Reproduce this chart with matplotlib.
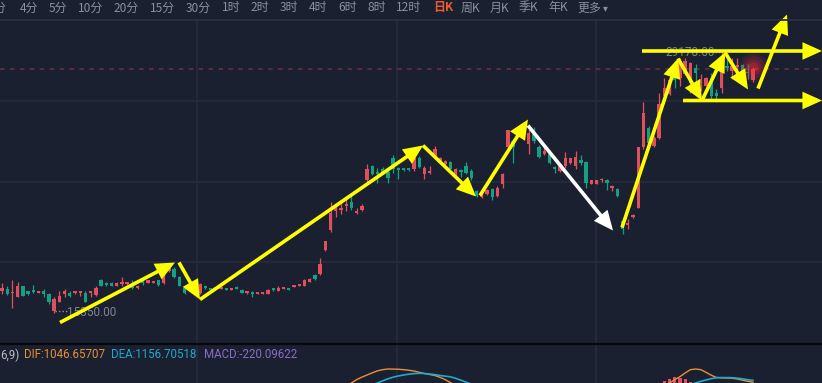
import matplotlib
matplotlib.use("Agg")
import matplotlib.pyplot as plt
from matplotlib.patches import Rectangle, FancyArrowPatch
from matplotlib.lines import Line2D
import numpy as np

# ---------------- data ----------------
opens = [16521, 16627, 16395, 16202, 16734, 16468, 16521, 16414, 16468, 16361,
         15457, 15936, 16361, 16414, 16414, 16414, 16414, 16414, 16308, 17053,
         16893, 16946, 16787, 16893, 16893, 16893, 16680, 17053, 16946, 16946,
         17053, 16946, 17584, 17691, 17265, 16680, 16627, 16574, 16414, 16734,
         16627, 16627, 16627, 16627, 16574, 16680, 16574, 16414, 16414, 16361,
         16361, 16361, 16627, 16521, 16627, 16627, 16734, 16787, 16787, 16999,
         17372, 17425, 18701, 19712, 20775, 20828, 21041, 21254, 20669, 20828,
         22371, 23168, 22849, 22956, 22849, 23541, 23009, 23009, 23009, 22956,
         23541, 22743, 22796, 23700, 23434, 23275, 23381, 22743, 22902, 23168,
         22902, 21839, 21467, 21679, 21945, 21573, 22211, 24126, 24498, 24764,
         24604, 24338, 24870, 24179, 23806, 23806, 23062, 22902, 23168, 23328,
         23168, 23487, 23381, 22211, 22211, 22371, 22424, 21998, 21945, 20243,
         20031, 20456, 20935, 24126, 25189, 24232, 24657, 26891, 26997, 28061,
         27848, 28061, 27582, 28380, 27582, 27423, 27848, 27050, 27316, 28486,
         28220, 28433, 28539, 28140, 27689]
closes = [16680, 16361, 16435, 16787, 16255, 16361, 16468, 16468, 16361, 15936,
          16095, 16255, 16468, 16255, 16468, 16468, 15936, 16468, 16680, 16787,
          16840, 16787, 16946, 16946, 16946, 16680, 16787, 16946, 17053, 16999,
          16840, 17638, 17744, 17265, 16787, 16414, 16574, 16521, 16893, 16680,
          16574, 16680, 16680, 16574, 16627, 16627, 16414, 16468, 16361, 16414,
          16414, 16574, 16574, 16680, 16680, 16574, 16787, 16840, 17106, 17159,
          17159, 17957, 19127, 20669, 20882, 20935, 21147, 20935, 20775, 21041,
          22956, 22743, 22743, 22796, 22530, 22956, 22956, 22956, 22956, 23541,
          23115, 23062, 22849, 24072, 23594, 23434, 23009, 23009, 22849, 22796,
          22530, 21573, 21679, 21892, 21467, 21998, 22743, 25030, 24126, 24923,
          25030, 24923, 24498, 23647, 23966, 23328, 23009, 23168, 23541, 23541,
          23647, 23328, 22264, 22371, 22371, 22477, 22264, 22052, 21573, 19818,
          20137, 20509, 24126, 25987, 24391, 24657, 26465, 27316, 27689, 27689,
          28752, 28752, 28646, 28114, 27795, 27848, 26891, 26891, 28646, 28380,
          28486, 28486, 28114, 28114, 28327]
highs = [16946, 16734, 17053, 16999, 16760, 16521, 16840, 16495, 16627, 16414,
         16149, 16468, 16627, 16468, 16521, 16480, 16468, 16480, 16734, 17159,
         16999, 16999, 16999, 17265, 16999, 17053, 16840, 17106, 17080, 17025,
         17106, 17691, 17850, 17797, 17318, 16734, 16734, 16680, 16946, 16787,
         16680, 16705, 16734, 16650, 16650, 16734, 16627, 16521, 16468, 16440,
         16440, 16600, 16640, 16734, 16705, 16650, 16810, 16865, 17159, 17185,
         17425, 18223, 19180, 21201, 21041, 21201, 21467, 21573, 20882, 21147,
         23275, 23221, 23062, 23115, 22956, 23753, 23115, 23062, 23062, 23594,
         23700, 23168, 23168, 24232, 23647, 23487, 23434, 23062, 23009, 23381,
         22956, 21892, 21730, 21945, 21998, 22052, 22796, 25083, 24604, 24975,
         25083, 25136, 25242, 24285, 24232, 23913, 23168, 23221, 23913, 23560,
         23966, 23753, 23434, 22395, 22395, 22530, 22477, 22158, 21998, 20297,
         20350, 20616, 24179, 26519, 25295, 24711, 27050, 27848, 27742, 28752,
         28859, 28859, 28699, 28593, 28061, 27901, 28114, 27263, 29178, 28859,
         28859, 28859, 28593, 28593, 28433]
lows = [16361, 16308, 15617, 16149, 16230, 16308, 16414, 16395, 16202, 15829,
        15350, 15883, 16202, 16149, 16361, 16255, 15883, 16202, 16255, 16734,
        16787, 16734, 16734, 16787, 16840, 16627, 16627, 16840, 16920, 16920,
        16787, 16893, 17531, 17212, 16734, 16361, 16521, 16468, 16361, 16627,
        16521, 16600, 16600, 16550, 16550, 16600, 16390, 16361, 16149, 16335,
        16335, 16335, 16468, 16468, 16600, 16550, 16710, 16760, 16734, 16975,
        17106, 17372, 18648, 19658, 20456, 20616, 20775, 20828, 20616, 20775,
        22317, 22690, 22264, 22743, 22264, 22796, 22477, 22902, 22902, 22902,
        23062, 22477, 22743, 23647, 23381, 23221, 22956, 22690, 22583, 22743,
        22371, 21520, 21415, 21626, 21360, 21520, 21998, 24072, 23328, 24711,
        24551, 23806, 24391, 23594, 23753, 23275, 22796, 22849, 23062, 23275,
        22956, 23221, 21998, 22185, 22185, 22317, 21892, 21839, 21467, 19552,
        19818, 20403, 20882, 24072, 24338, 24179, 24604, 26838, 26944, 27316,
        27423, 28008, 27050, 27423, 27157, 27370, 26731, 26731, 27050, 28220,
        27795, 28114, 28061, 27795, 27635]

high_label = "29178.00"
low_label = "15350.00"

# MACD panel
dif_left_idx = list(range(66, 88))
dif_left = [800, 1000, 1200, 1350, 1480, 1610, 1730, 1800, 1840, 1835, 1825,
            1800, 1765, 1720, 1640, 1570, 1510, 1450, 1340, 1200, 1020, 850]
dea_left_idx = list(range(71, 91))
dea_left = [900, 1000, 1130, 1250, 1350, 1420, 1480, 1530, 1565, 1582,
            1570, 1540, 1500, 1450, 1410, 1370, 1280, 1170, 1050, 930]
dif_right_idx = list(range(127, 145))
dif_right = [850, 1000, 1200, 1380, 1600, 1800, 1840, 1800, 1640, 1470,
             1330, 1310, 1300, 1285, 1240, 1170, 1100, 1047]
dea_right_idx = list(range(132, 145))
dea_right = [900, 1000, 1100, 1180, 1260, 1318, 1325, 1325, 1318, 1290,
             1250, 1200, 1157]
hist_idx = [127, 128, 129, 130, 131, 132]
hist_vals = [1120, 1240, 1342, 1318, 1240, 1078]
macd_labels = ["6,9)", "DIF:1046.65707", "DEA:1156.70518", "MACD:-220.09622"]

header_labels = ["分", "4分", "5分", "10分", "20分", "15分", "30分", "1时", "2时",
                 "3时", "4时", "6时", "8时", "12时", "日K", "周K", "月K", "季K",
                 "年K", "更多"]

# hand drawn arrows: (candle index, price)
arrow_starts = [(11.12, 14819), (33.94, 18010), (37.97, 16042), (80.73, 24232),
                (91.66, 21573), (100.86, 25295), (118.89, 19871), (129.63, 28859),
                (134.23, 26625), (138.64, 29178), (144.97, 27263),
                (122.72, 29258), (130.59, 26625)]
arrow_ends = [(33.17, 18010), (37.97, 16042), (80.73, 24232), (90.89, 21520),
              (100.86, 25614), (117.16, 19712), (129.63, 28859), (134.23, 26625),
              (138.64, 29178), (143.05, 27210), (150.53, 31198),
              (157.24, 29258), (157.24, 26625)]
arrow_colors = ["#ffff00"] * 5 + ["#ffffff"] + ["#ffff00"] * 7

# ---------------- style ----------------
W, H, DPI = 822, 383, 100
BG = "#1b2030"
GRID = "#242b3b"
RED = "#e0505c"
GREEN = "#13a083"
GREY = "#8a909c"
NUMFONT = ["Liberation Sans Narrow", "Roboto", "DejaVu Sans"]

plt.rcParams["font.family"] = ["Noto Sans CJK SC", "DejaVu Sans"]

fig = plt.figure(figsize=(W / DPI, H / DPI), dpi=DPI, facecolor=BG)

def fx(px):
    return px / W

def fy(py):
    return 1 - py / H

# main axes: pixel rows 20..344
top_px, bot_px = 20, 344
ax = fig.add_axes([0, fy(bot_px), 1, (bot_px - top_px) / H])
ax.set_facecolor("none")
ax.axis("off")
ppx = 53.18  # price per pixel
ylo = 29178 - (bot_px - 52.5) * ppx
yhi = 29178 + (52.5 - top_px) * ppx
step = 5.215
xlo = -2 / step
xhi = (W - 2) / step
ax.set_xlim(xlo, xhi)
ax.set_ylim(ylo, yhi)

# grid
for gy in (101, 182, 262):
    ax.axhline(29178 - (gy - 52.5) * ppx, color=GRID, lw=1.2, zorder=0)
for gx in (197, 397, 596):
    ax.axvline((gx - 2) / step, color=GRID, lw=1.2, zorder=0)

# candles
o = np.array(opens, float)
c = np.array(closes, float)
h = np.array(highs, float)
l = np.array(lows, float)
idx = np.arange(len(o))
bw = 0.64
for i in idx:
    col = RED if c[i] >= o[i] else GREEN
    ax.vlines(i, l[i], h[i], color=col, lw=0.9, zorder=2)
    lo_b, hi_b = min(o[i], c[i]), max(o[i], c[i])
    hgt = hi_b - lo_b
    if hgt < 1.3 * ppx:
        mid = (lo_b + hi_b) / 2
        hgt = 1.3 * ppx
        lo_b = mid - hgt / 2
    ax.add_patch(Rectangle((i - bw / 2, lo_b), bw, hgt, fc=col, ec="none", zorder=3))

# last price dashed line + glow
last = c[-1]
ax.axhline(last, color="#5e2f3e", lw=1.3, ls=(0, (2.5, 3)), zorder=1)
for s, a in ((420, 0.10), (260, 0.14), (130, 0.18), (50, 0.25)):
    ax.scatter([idx[-1]], [last + 2 * ppx], s=s, color="#ff2a3c", alpha=a,
               lw=0, zorder=4)

# high / low labels
imax = int(np.argmax(h))
imin = int(np.argmin(l))
ax.plot([imin + 0.25, imin + 2.4], [l[imin] + 1.5 * ppx] * 2, color=GREY,
        lw=1, ls=(0, (1, 1.5)), zorder=4)
ax.annotate(low_label, xy=(imin, l[imin]), xytext=(9.5, 0), textcoords="offset points",
            ha="left", va="center", fontsize=8.5, color="#7e8594",
            family=NUMFONT, zorder=4)
ax.plot([imax - 1.2, imax - 0.3], [h[imax]] * 2, color=GREY, lw=1,
        ls=(0, (1, 1.5)), zorder=4)
ax.annotate(high_label, xy=(imax, h[imax]), xytext=(-5, 0), textcoords="offset points",
            ha="right", va="center", fontsize=8.5, color="#7e8594",
            family=NUMFONT, zorder=4)

# arrows
for p0, p1, col in zip(arrow_starts, arrow_ends, arrow_colors):
    arr = FancyArrowPatch(p0, p1, arrowstyle="-|>,head_length=0.8,head_width=0.36",
                          mutation_scale=12, color=col, lw=2.6, shrinkA=0, shrinkB=0,
                          clip_on=False, zorder=6, joinstyle="miter",
                          capstyle="butt")
    ax.add_patch(arr)

# header
header_x = [-6, 20, 49, 78, 114, 150, 186, 222, 251, 280, 309, 338, 367, 396,
            433, 461, 490, 519, 548, 577]
for lab, px in zip(header_labels, header_x):
    if lab == "日K":
        fig.text(fx(px), fy(8), lab, ha="left", va="center", fontsize=8.6,
                 color="#ef5b2c", fontweight="bold")
    else:
        fig.text(fx(px), fy(8), lab, ha="left", va="center", fontsize=8.6, color=GREY)
fig.text(fx(603), fy(8), "▾", ha="left", va="center", fontsize=7, color=GREY,
         family=["DejaVu Sans"])
fig.add_artist(Line2D([0, 1], [fy(19.5), fy(19.5)], color="#283041", lw=1.3))

# MACD panel
ax2 = fig.add_axes([0, 0, 1, (H - 345) / H])
ax2.set_facecolor("none")
ax2.axis("off")
ax2.set_xlim(xlo, xhi)
ax2.set_ylim(1000, 1000 + 38 * 60)
for gx in (197, 397, 596):
    ax2.axvline((gx - 2) / step, color=GRID, lw=1.2, zorder=0)
ax2.bar(hist_idx, hist_vals, width=0.6, color=RED, zorder=2)
ax2.plot(dif_left_idx, dif_left, color="#e8903a", lw=1.0, zorder=3)
ax2.plot(dif_right_idx, dif_right, color="#e8903a", lw=1.0, zorder=3)
ax2.plot(dea_left_idx, dea_left, color="#1fa9cf", lw=1.2, zorder=3)
ax2.plot(dea_right_idx, dea_right, color="#1fa9cf", lw=1.2, zorder=3)
fig.add_artist(Line2D([0, 1], [fy(344), fy(344)], color="#06080d", lw=1.6))

macd_x = [0, 24, 111, 204]
macd_cols = ["#b9bdc6", "#e8903a", "#1fa9cf", "#8a6cc9"]
for lab, px, col in zip(macd_labels, macd_x, macd_cols):
    fig.text(fx(px), fy(355), lab, ha="left", va="center", fontsize=8.3, color=col,
             family=NUMFONT)

fig.savefig("out.png", dpi=DPI, facecolor=BG)
